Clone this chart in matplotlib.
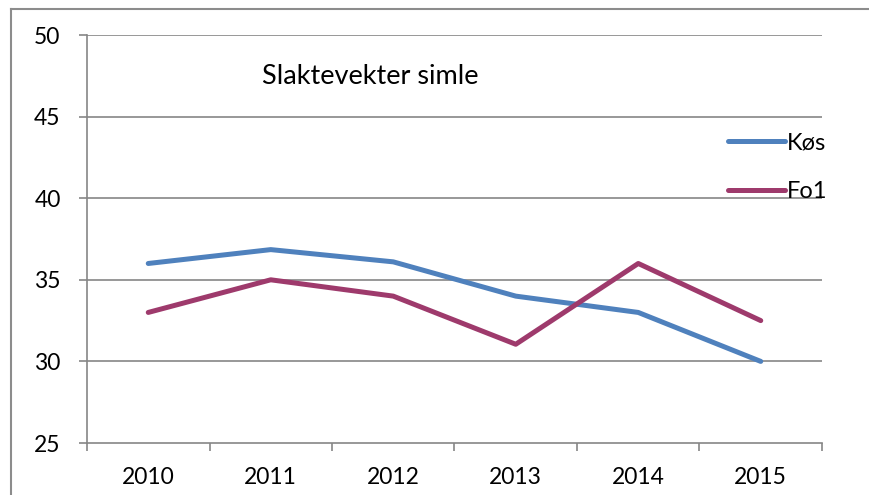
import matplotlib
matplotlib.use("Agg")
import matplotlib.pyplot as plt
from matplotlib.lines import Line2D
import numpy as np

years = ["2010", "2011", "2012", "2013", "2014", "2015"]
kos = [36.0, 36.85, 36.1, 34.0, 33.0, 30.0]
fo1 = [33.0, 35.0, 34.0, 31.05, 36.0, 32.5]
yticks = [25, 30, 35, 40, 45, 50]
title = "Slaktevekter simle"

plt.rcParams['font.family'] = ['Lato', 'DejaVu Sans']
W, H = 870, 495
fig = plt.figure(figsize=(W/100, H/100), dpi=100)
ax = fig.add_axes([87/W, 1-443/H, (822-87)/W, (443-35)/H])

grid_c = '#868686'
x = np.arange(len(years))
ax.plot(x, kos, color='#4F81BD', lw=3.6, solid_capstyle='round', label='Køs', zorder=3)
ax.plot(x, fo1, color='#9E3A6C', lw=3.6, solid_capstyle='round', label='Fo1', zorder=3)

ax.set_xlim(-0.5, len(years)-0.5)
ax.set_ylim(25, 50)
ax.set_yticks(yticks)
ax.set_yticklabels([str(v) for v in yticks])
ax.set_xticks(x)
ax.set_xticklabels(years)
ax.set_xticks(np.arange(-0.5, len(years)), minor=True)
ax.tick_params(axis='x', which='major', length=0, pad=17, labelsize=16.5)
ax.tick_params(axis='x', which='minor', length=6, width=1.2, color=grid_c)
ax.tick_params(axis='y', which='major', length=6, width=1.2, color=grid_c, pad=13, labelsize=16.5)
for yv in yticks[1:]:
    ax.axhline(yv, color=grid_c, lw=1.2, zorder=1)
for s in ['top', 'right']:
    ax.spines[s].set_visible(False)
for s in ['left', 'bottom']:
    ax.spines[s].set_color(grid_c)
    ax.spines[s].set_linewidth(1.2)

ax.text((262-87)/735, (443-76)/408, title, transform=ax.transAxes,
        fontsize=19.5, va='center', ha='left')

leg = ax.legend(loc='upper left', bbox_to_anchor=(728/W, 1-132/H), bbox_transform=fig.transFigure,
                frameon=False, fontsize=17, handlelength=2.4, handletextpad=0.1,
                labelspacing=1.18, borderaxespad=0, borderpad=0)

# outer chart border (partially visible)
fig.add_artist(Line2D([11/W, 11/W], [1-9/H, -0.01], transform=fig.transFigure, color='#8c8c8c', lw=1.5))
fig.add_artist(Line2D([11/W, 1.01], [1-9/H, 1-9/H], transform=fig.transFigure, color='#8c8c8c', lw=1.5))

fig.savefig('out.png', dpi=100)
